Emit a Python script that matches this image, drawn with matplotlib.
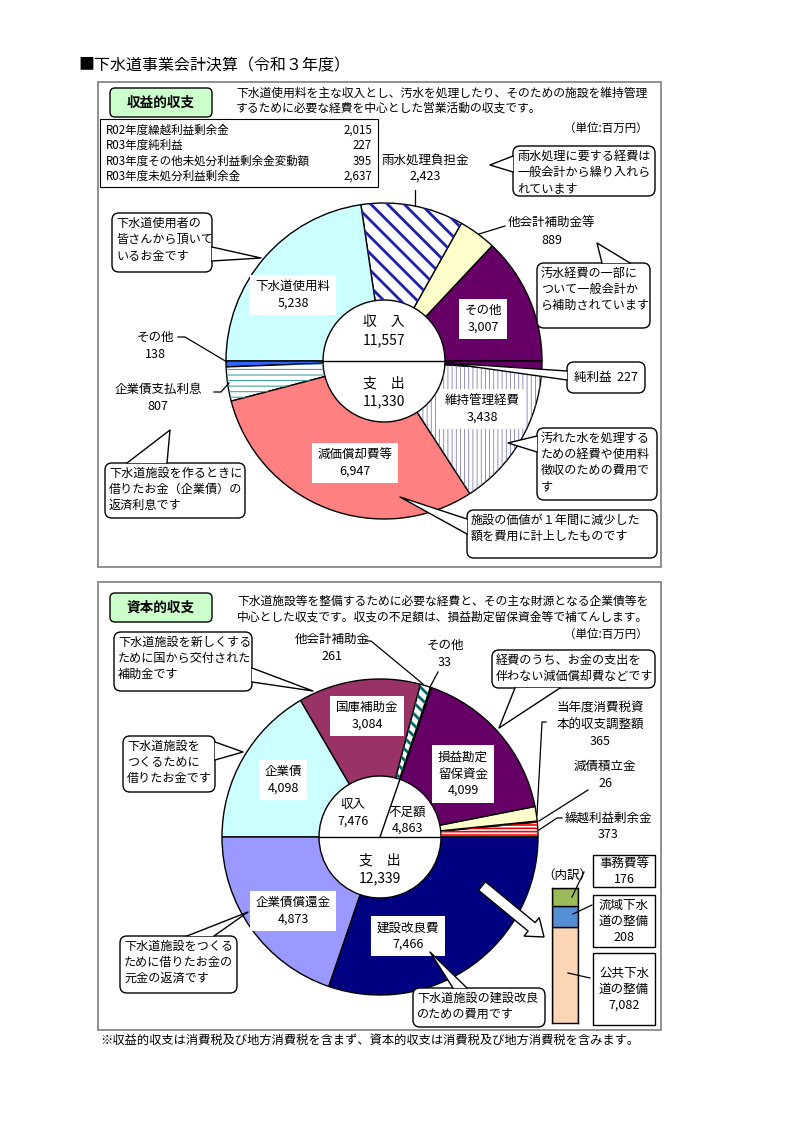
import matplotlib
matplotlib.use('Agg')
import matplotlib.pyplot as plt
from matplotlib.patches import FancyBboxPatch, Rectangle, Polygon, Wedge, FancyArrow
import numpy as np

plt.rcParams['font.family'] = ['Noto Sans CJK JP', 'DejaVu Sans']

W, H = 794, 1122

# ---- 収益的収支 (百万円) ----
rev_names = ['その他', '他会計補助金等', '雨水処理負担金', '下水道使用料']
rev_values = [3007, 889, 2423, 5238]
exp_names = ['その他', '企業債支払利息', '減価償却費等', '維持管理経費']
exp_values = [138, 807, 6947, 3438]
profit_name = '純利益'
profit_value = 227

table_names = ['R02年度繰越利益剰余金', 'R03年度純利益',
               'R03年度その他未処分利益剰余金変動額', 'R03年度未処分利益剰余金']
table_values = [2015, 227, 395, 2637]

# ---- 資本的収支 (百万円) ----
short_names = ['繰越利益剰余金', '減債積立金', '当年度消費税資\n本的収支調整額', '損益勘定\n留保資金']
short_values = [373, 26, 365, 4099]
cap_in_names = ['その他', '他会計補助金', '国庫補助金', '企業債']
cap_in_values = [33, 261, 3084, 4098]
cap_out_names = ['企業債償還金', '建設改良費']
cap_out_values = [4873, 7466]

# 建設改良費の内訳
detail_names = ['公共下水\n道の整備', '流域下水\n道の整備', '事務費等']
detail_values = [7082, 208, 176]

top_colors = ['#660066', '#ffffcc', 'white', '#ccffff',
              '#3366ff', 'white', '#ff8080', 'white', '#660066']
top_hatch = {2: ('\\\\', '#2020b0', 2.0), 5: ('---', '#44a0a0', 0.8), 7: ('||||', '#6666aa', 0.5)}
bot_colors = ['white', 'white', '#ffffcc', '#660066', '#99ccff',
              'white', '#993366', '#ccffff', '#9999ff', '#000080']
bot_hatch = {0: ('-----', '#ee0000', 1.2), 1: ('....', '#333333', 0.5), 5: ('\\\\\\', '#006666', 2.0)}
detail_colors = ['#fcd5b5', '#558ed5', '#9bbb59']

R, R_IN = 158, 61
FS = 9
CFS = 8.7

fig = plt.figure(figsize=(W / 100, H / 100), dpi=100)
fig.patch.set_facecolor('white')
ax = fig.add_axes([0, 0, 1, 1])
ax.patch.set_visible(False)
ax.set_zorder(2)


def fmt(v):
    return f'{v:,}'


def donut(values, colors, center, hatches):
    wedges, _ = ax.pie(values, colors=colors, radius=R, center=center, startangle=0,
                       counterclock=False,
                       wedgeprops=dict(width=R - R_IN, edgecolor='black', linewidth=1))
    for i, (h, c, lw) in hatches.items():
        w = wedges[i]
        with plt.rc_context({'hatch.linewidth': lw}):
            p = Wedge(w.center, w.r, w.theta1, w.theta2, width=w.width,
                      facecolor='none', edgecolor=c, linewidth=0, hatch=h)
        if hasattr(p, 'set_hatch_linewidth'):
            p.set_hatch_linewidth(lw)
        ax.add_patch(p)
    return wedges


def callout(x0, y0, x1, y1, base, tip, text, fs=CFS):
    ax.add_patch(FancyBboxPatch((x0, y0), x1 - x0, y1 - y0,
                                boxstyle='round,pad=0,rounding_size=7',
                                fc='white', ec='black', lw=1, zorder=5))
    ax.add_patch(Polygon([base[0], tip, base[1]], closed=True, fc='white', ec='none', zorder=6))
    ax.plot([base[0][0], tip[0], base[1][0]], [base[0][1], tip[1], base[1][1]],
            color='black', lw=1, zorder=7)
    ax.text(x0 + 4, y0 + 4, text, ha='left', va='top', fontsize=fs, linespacing=1.3, zorder=8)


def leader(pts):
    ax.plot([p[0] for p in pts], [p[1] for p in pts], color='black', lw=0.9, zorder=4)


def inlabel(x, y, text, fs=FS):
    ax.text(x, y, text, ha='center', va='center', fontsize=fs, linespacing=1.35, zorder=6,
            bbox=dict(boxstyle='square,pad=0.45', fc='white', ec='none'))


def plain(x, y, text, fs=FS, ha='center'):
    ax.text(x, y, text, ha=ha, va='center', fontsize=fs, linespacing=1.35, zorder=6)


# ---------- header ----------
ax.text(78, 66, '■下水道事業会計決算（令和３年度）', fontsize=11.5, ha='left', va='center')

# ---------- 収益的収支 panel ----------
ax.add_patch(Rectangle((98, 82), 563, 485, fc='none', ec='#888888', lw=1.3))
ax.add_patch(FancyBboxPatch((110, 88), 102, 29, boxstyle='round,pad=0,rounding_size=5',
                            fc='#ccffcc', ec='black', lw=1))
ax.text(161, 102.5, '収益的収支', fontsize=9.8, fontweight='bold', ha='center', va='center')
ax.text(236, 93, '下水道使用料を主な収入とし、汚水を処理したり、そのための施設を維持管理',
        fontsize=8.5, ha='left', va='center')
ax.text(236, 108, 'するために必要な経費を中心とした営業活動の収支です。',
        fontsize=8.5, ha='left', va='center')
ax.text(648, 128, '（単位:百万円）', fontsize=8.3, ha='right', va='center')

ax.add_patch(Rectangle((100, 119), 278, 68, fc='white', ec='black', lw=0.8))
for i, (nm, v) in enumerate(zip(table_names, table_values)):
    ax.text(106, 130 + 15.5 * i, nm, fontsize=8.3, ha='left', va='center')
    ax.text(372, 130 + 15.5 * i, fmt(v), fontsize=8.3, ha='right', va='center')

c1 = (384, 361)
donut(rev_values + exp_values + [profit_value], top_colors, c1, top_hatch)
ax.plot([c1[0] - R_IN, c1[0] + R_IN], [c1[1], c1[1]], color='black', lw=1)

plain(c1[0], 331, f'収　入\n{fmt(sum(rev_values))}', fs=10)
plain(c1[0], 392, f'支　出\n{fmt(sum(exp_values))}', fs=10)
inlabel(293, 295, f'{rev_names[3]}\n{fmt(rev_values[3])}')
inlabel(483, 319, f'{rev_names[0]}\n{fmt(rev_values[0])}')
inlabel(482, 409, f'{exp_names[3]}\n{fmt(exp_values[3])}')
inlabel(355, 463, f'{exp_names[2]}\n{fmt(exp_values[2])}')

plain(425, 168, f'{rev_names[2]}\n{fmt(rev_values[2])}')
leader([(415, 190), (415, 206)])
plain(552, 232, f'{rev_names[1]}\n{fmt(rev_values[1])}')
leader([(505, 226), (479, 234)])
plain(155, 346, f'{exp_names[0]}\n{fmt(exp_values[0])}')
leader([(178, 337), (185, 337), (227, 362)])
plain(158, 398, f'{exp_names[1]}\n{fmt(exp_values[1])}')
leader([(214, 392), (221, 392), (229, 383)])

callout(513, 146, 655, 196, [(513, 156), (513, 172)], (490, 165),
        '雨水処理に要する経費は\n一般会計から繰り入れら\nれています')
callout(537, 263, 650, 328, [(602, 263), (630, 263)], (597, 243),
        '汚水経費の一部に\nついて一般会計か\nら補助されています')
callout(112, 213, 212, 272, [(212, 247), (212, 261)], (261, 258),
        '下水道使用者の\n皆さんから頂いて\nいるお金です')
callout(105, 463, 245, 518, [(127, 463), (167, 463)], (170, 430),
        '下水道施設を作るときに\n借りたお金（企業債）の\n返済利息です')
callout(567, 362, 645, 393, [(567, 371), (567, 380)], (447, 363), '')
ax.text(606, 377.5, f'{profit_name}  {profit_value}', fontsize=FS, ha='center', va='center', zorder=8)
callout(537, 428, 657, 500, [(537, 436), (537, 452)], (508, 443),
        '汚れた水を処理する\nための経費や使用料\n徴収のための費用で\nす')
callout(467, 510, 657, 558, [(467, 519), (467, 534)], (400, 497),
        '施設の価値が１年間に減少した\n額を費用に計上したものです')

# ---------- 資本的収支 panel ----------
ax.add_patch(Rectangle((98, 582), 563, 448, fc='none', ec='#888888', lw=1.3))
ax.add_patch(FancyBboxPatch((110, 593), 102, 29, boxstyle='round,pad=0,rounding_size=5',
                            fc='#ccffcc', ec='black', lw=1))
ax.text(161, 607.5, '資本的収支', fontsize=9.8, fontweight='bold', ha='center', va='center')
ax.text(237, 601, '下水道施設等を整備するために必要な経費と、その主な財源となる企業債等を',
        fontsize=8.5, ha='left', va='center')
ax.text(237, 617, '中心とした収支です。収支の不足額は、損益勘定留保資金等で補てんします。',
        fontsize=8.5, ha='left', va='center')
ax.text(648, 634, '（単位:百万円）', fontsize=8.3, ha='right', va='center')

c2 = (380, 837)
wb = donut(short_values + cap_in_values + cap_out_values, bot_colors, c2, bot_hatch)
ax.plot([c2[0] - R_IN, c2[0] + R_IN], [c2[1], c2[1]], color='black', lw=1)
# 収入 / 不足額 の境界
th = np.deg2rad(wb[3].theta1 if abs(wb[3].theta1) > abs(wb[3].theta2) else wb[3].theta2)
ax.plot([c2[0], c2[0] + R_IN * np.cos(th)], [c2[1], c2[1] + R_IN * np.sin(th)], color='black', lw=1)

plain(353, 813, f'収入\n{fmt(sum(cap_in_values))}')
plain(407, 820, f'不足額\n{fmt(sum(short_values))}')
plain(c2[0], 869, f'支　出\n{fmt(sum(cap_out_values))}', fs=10)
inlabel(367, 716, f'{cap_in_names[2]}\n{fmt(cap_in_values[2])}')
inlabel(283, 780, f'{cap_in_names[3]}\n{fmt(cap_in_values[3])}')
inlabel(463, 774, f'{short_names[3]}\n{fmt(short_values[3])}')
inlabel(293, 911, f'{cap_out_names[0]}\n{fmt(cap_out_values[0])}')
inlabel(408, 936, f'{cap_out_names[1]}\n{fmt(cap_out_values[1])}')

plain(332, 648, f'{cap_in_names[1]}\n{fmt(cap_in_values[1])}')
leader([(366, 641), (371, 641), (423, 684)])
plain(445, 654, f'{cap_in_names[0]}\n{fmt(cap_in_values[0])}')
leader([(438, 672), (430, 687)])
plain(600, 725, f'{short_names[2]}\n{fmt(short_values[2])}')
leader([(546, 722), (542, 722), (537, 815)])
plain(605, 775, f'{short_names[1]}\n{fmt(short_values[1])}')
leader([(588, 790), (539, 821)])
plain(608, 826, f'{short_names[0]}\n{fmt(short_values[0])}')
leader([(562, 818), (557, 818), (539, 830)])

callout(114, 632, 252, 691, [(252, 668), (252, 682)], (313, 691),
        '下水道施設を新しくする\nために国から交付された\n補助金です')
callout(123, 736, 215, 792, [(215, 742), (215, 760)], (243, 752),
        '下水道施設を\nつくるために\n借りたお金です')
callout(492, 650, 655, 688, [(515, 688), (560, 688)], (499, 728),
        '経費のうち、お金の支出を\n伴わない減価償却費などです')
callout(120, 936, 237, 993, [(187, 936), (214, 936)], (248, 912),
        '下水道施設をつくる\nために借りたお金の\n元金の返済です')
callout(413, 988, 545, 1027, [(453, 988), (467, 988)], (430, 952),
        '下水道施設の建設改良\nのための費用です')

# 矢印
ax.add_patch(FancyArrow(482, 886, 62, 51, width=11, head_width=24, head_length=16,
                        length_includes_head=True, fc='white', ec='black', lw=1, zorder=5))

# 内訳 bar (truncated axis so the small items stay visible)
bx0, by0, bx1, by1 = 552, 888, 578, 1023
bax = fig.add_axes([bx0 / W, 1 - by1 / H, (bx1 - bx0) / W, (by1 - by0) / H])
bax.set_zorder(1)
bottoms = [0, detail_values[0], detail_values[0] + detail_values[1]]
bax.bar([0, 0, 0], detail_values, bottom=bottoms, width=1, color=detail_colors,
        edgecolor='black', linewidth=1)
bax.set_xlim(-0.5, 0.5)
bax.set_ylim(6137, sum(detail_values))
bax.set_xticks([])
bax.set_yticks([])
for s in bax.spines.values():
    s.set_color('black')
    s.set_linewidth(1)

ax.text(567, 875, '（内訳）', fontsize=FS, ha='center', va='center')
box_rows = [(953, 1025), (895, 947), (855, 887)]
for nm, v, (ya, yb) in zip(detail_names, detail_values, box_rows):
    ax.add_patch(Rectangle((593, ya), 62, yb - ya, fc='white', ec='black', lw=1))
    ax.text(624, (ya + yb) / 2, f'{nm}\n{fmt(v)}', fontsize=FS, ha='center', va='center',
            linespacing=1.3)
leader([(584, 872), (572, 897)])
leader([(592, 905), (573, 914)])
leader([(590, 978), (568, 973)])

ax.text(100, 1040, '※収益的収支は消費税及び地方消費税を含まず、資本的収支は消費税及び地方消費税を含みます。',
        fontsize=8.8, ha='left', va='center')

ax.set_xlim(0, W)
ax.set_ylim(H, 0)
ax.set_aspect('auto')
ax.axis('off')

fig.savefig('out.png', dpi=100, facecolor='white')
